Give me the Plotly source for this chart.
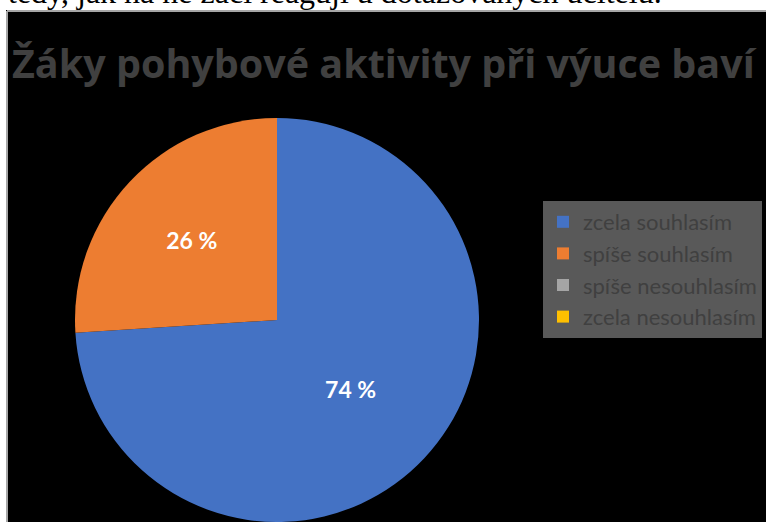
import plotly.graph_objects as go

categories = ["zcela souhlasím", "spíše souhlasím", "spíše nesouhlasím", "zcela nesouhlasím"]
values = [74, 26, 0, 0]
labels_text = ["74 %", "26 %", "", ""]
colors = ["#4472C4", "#ED7D31", "#A5A5A5", "#FFC000"]
title_text = "Žáky pohybové aktivity při výuce baví"
top_text = "tedy, jak na ně žáci reagují u dotazovaných učitelů."

W, H = 766, 522

fig = go.Figure()
fig.add_trace(go.Pie(
    labels=categories,
    values=values,
    text=labels_text,
    textinfo="text",
    textposition="inside",
    insidetextorientation="horizontal",
    textfont=dict(family="Lato", size=23, color="white", weight="bold"),
    marker=dict(colors=colors, line=dict(width=0)),
    sort=False,
    direction="clockwise",
    rotation=0,
    hoverinfo="skip",
    domain=dict(x=[(277 - 202) / W, (277 + 202) / W], y=[0, 404 / H]),
))

fig.update_layout(
    width=W, height=H,
    margin=dict(l=0, r=0, t=0, b=0),
    paper_bgcolor="black",
    plot_bgcolor="black",
    showlegend=True,
    legend=dict(
        x=543 / W, y=(H - 201) / H, xanchor="left", yanchor="top",
        bgcolor="#595959",
        font=dict(family="Lato", size=22, color="#404040"),
        borderwidth=0,
        traceorder="normal",
    ),
    shapes=[
        dict(type="rect", xref="paper", yref="paper", x0=0, x1=1, y0=(H - 10) / H, y1=1,
             fillcolor="white", line=dict(width=0), layer="above"),
        dict(type="rect", xref="paper", yref="paper", x0=0, x1=6 / W, y0=0, y1=1,
             fillcolor="white", line=dict(width=0), layer="above"),
        dict(type="line", xref="paper", yref="paper", x0=7 / W, x1=1, y0=(H - 11) / H, y1=(H - 11) / H,
             line=dict(color="#A6A6A6", width=2), layer="above"),
        dict(type="line", xref="paper", yref="paper", x0=7 / W, x1=7 / W, y0=0, y1=(H - 11) / H,
             line=dict(color="#A6A6A6", width=2), layer="above"),
    ],
    annotations=[
        dict(text=title_text, xref="paper", yref="paper", x=10 / W, y=(H - 34) / H,
             xanchor="left", yanchor="top", showarrow=False,
             font=dict(family="Open Sans", size=39.5, color="#404040", weight="bold")),
        dict(text=top_text, xref="paper", yref="paper", x=6 / W, y=1,
             xanchor="left", yanchor="bottom", yshift=-12.5, showarrow=False,
             font=dict(family="Liberation Serif", size=32, color="black")),
    ],
)

fig.write_html("out.html")
